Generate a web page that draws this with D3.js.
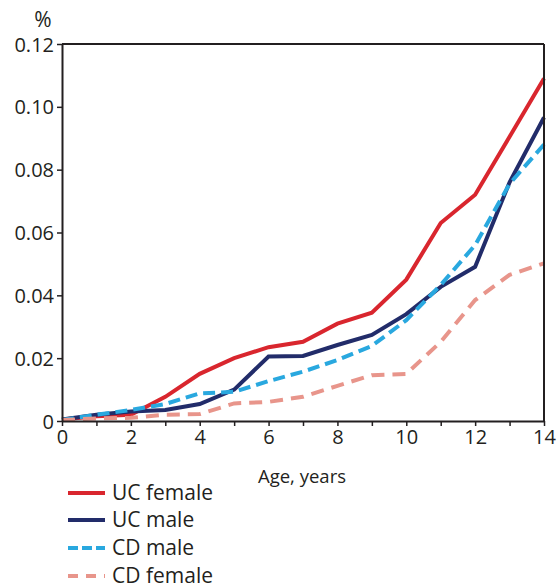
<!DOCTYPE html>
<html><head><meta charset="utf-8">
<script src="https://cdn.jsdelivr.net/npm/d3@7"></script>
<style>body{margin:0;background:#fff}svg{display:block}text{font-family:"Open Sans",sans-serif;fill:#231f20}</style>
</head><body>
<script>
const ages = [0,1,2,3,4,5,6,7,8,9,10,11,12,13,14];
const ucFemale = [0.0005,0.0015,0.002,0.0077,0.015,0.020,0.0235,0.0252,0.031,0.0345,0.045,0.063,0.072,0.0905,0.109];
const ucMale   = [0.0005,0.002,0.003,0.0035,0.0054,0.010,0.0205,0.0207,0.0242,0.0274,0.034,0.0427,0.0491,0.076,0.0966];
const cdMale   = [0.0003,0.002,0.0035,0.0054,0.0088,0.0093,0.0127,0.0157,0.0194,0.0239,0.0321,0.0433,0.056,0.0755,0.088];
const cdFemale = [0.0003,0.0008,0.001,0.002,0.0022,0.0056,0.0061,0.0077,0.0112,0.0146,0.015,0.0252,0.0385,0.0465,0.0502];
const xTicks = [0,2,4,6,8,10,12,14];
const yTicks = [0,0.02,0.04,0.06,0.08,0.10,0.12];
const seriesNames = ["UC female","UC male","CD male","CD female"];
const seriesData = [ucFemale, ucMale, cdMale, cdFemale];
const colors = ["#d9262e","#222c6a","#29a8df","#e8958b"];
const dashes = [null, null, "12,6", "13,8"];
const legendDashes = [null, null, "10,4", "10,8"];

const W=558,H=588;
const m={l:62,r:14,t:44,b:167};
const svg=d3.select("body").append("svg").attr("width",W).attr("height",H);
const x=d3.scaleLinear().domain([0,14]).range([m.l,W-m.r]);
const y=d3.scaleLinear().domain([0,0.12]).range([H-m.b,m.t]);
const axisColor="#231f20";

// lines
const line=d3.line().x((d,i)=>x(ages[i])).y(d=>y(d));
seriesData.forEach((s,k)=>{
  svg.append("path").datum(s).attr("d",line).attr("fill","none")
    .attr("stroke",colors[k]).attr("stroke-width",4)
    .attr("stroke-dasharray",dashes[k]).attr("stroke-linejoin","miter");
});

// frame
svg.append("line").attr("x1",x(0)).attr("x2",x(14)).attr("y1",y(0.12)).attr("y2",y(0.12)).attr("stroke",axisColor).attr("stroke-width",2);
svg.append("line").attr("x1",x(14)).attr("x2",x(14)).attr("y1",y(0.12)).attr("y2",y(0)).attr("stroke",axisColor).attr("stroke-width",2);

// axes
const xa=svg.append("g").attr("transform",`translate(0,${y(0)})`)
  .call(d3.axisBottom(x).tickValues(ages).tickSizeInner(5).tickSizeOuter(0).tickFormat(d=>xTicks.includes(d)?d3.format("d")(d):""));
const ya=svg.append("g").attr("transform",`translate(${x(0)},0)`)
  .call(d3.axisLeft(y).tickValues(yTicks).tickSizeInner(5).tickSizeOuter(0).tickFormat(d=>d===0?"0":d3.format(".2f")(d)));
[xa,ya].forEach(g=>{
  g.select(".domain").attr("stroke",axisColor).attr("stroke-width",2);
  g.selectAll(".tick line").attr("stroke",axisColor).attr("stroke-width",1.5);
  g.selectAll(".tick text").style("font-size","20px").attr("fill",axisColor);
});
xa.selectAll(".tick text").attr("dy","0.75em").attr("y",8);
ya.selectAll(".tick text").attr("x",-8).attr("dy","0.35em");

svg.append("text").attr("x",43).attr("y",27).attr("text-anchor","middle").style("font-size","21px").text("%");
svg.append("text").attr("x",302).attr("y",483).attr("text-anchor","middle").style("font-size","18.5px").text("Age, years");

// legend
const lg=svg.append("g");
const rows=[493,520,548,576];
seriesNames.forEach((n,k)=>{
  lg.append("line").attr("x1",68).attr("x2",105).attr("y1",rows[k]).attr("y2",rows[k])
    .attr("stroke",colors[k]).attr("stroke-width",4).attr("stroke-dasharray",legendDashes[k]);
  lg.append("text").attr("x",112).attr("y",rows[k]).attr("dy","0.35em").style("font-size","21px").text(n);
});
</script>
</body></html>
